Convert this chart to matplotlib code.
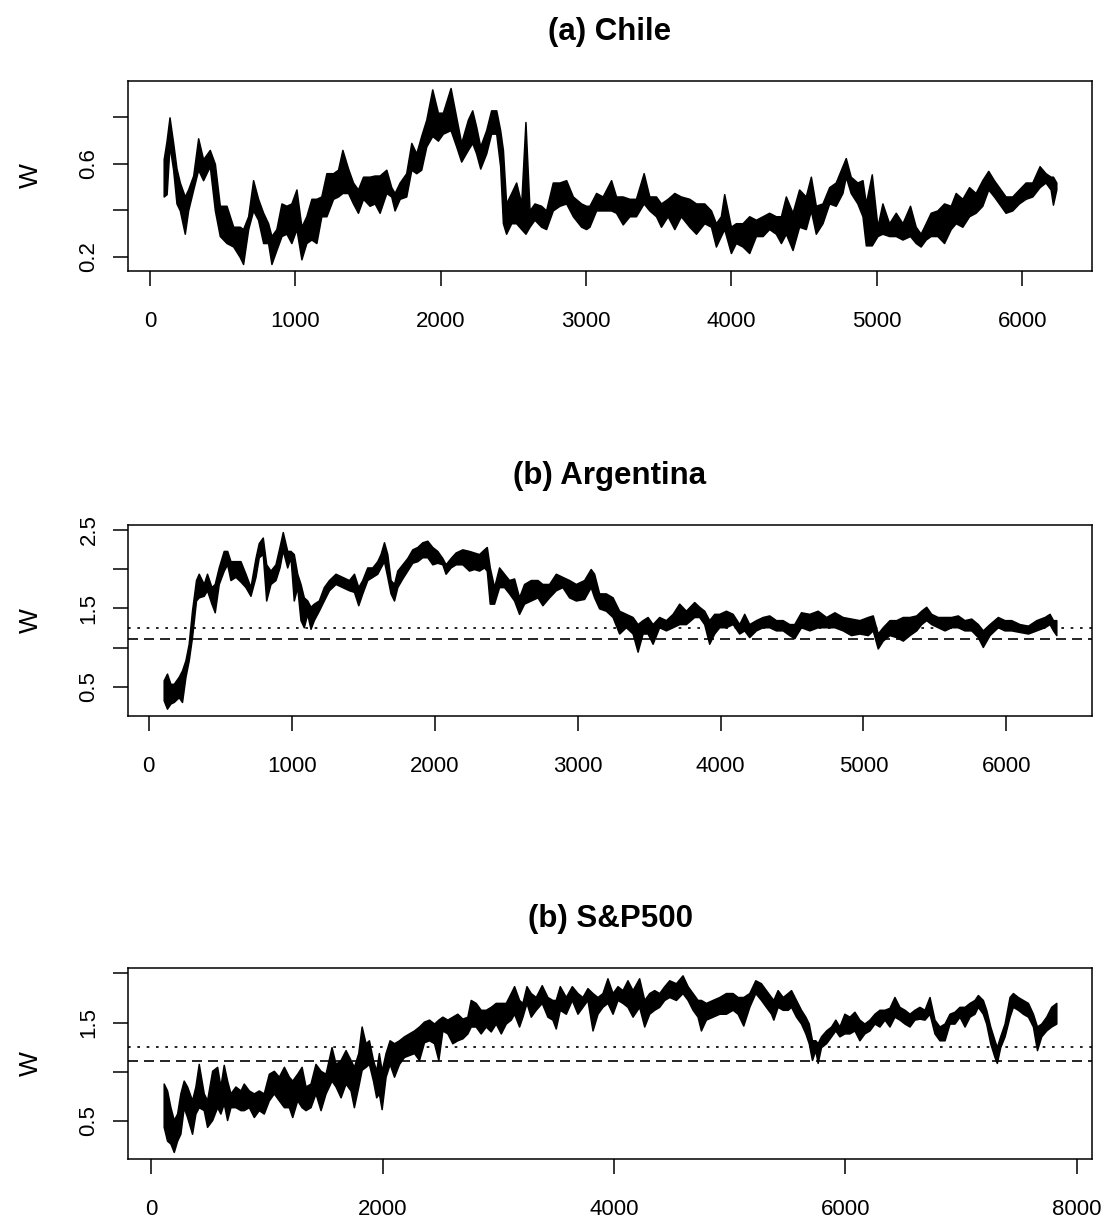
import numpy as np
import matplotlib
matplotlib.use("Agg")
import matplotlib.pyplot as plt

plt.rcParams["font.family"] = ["Liberation Sans", "DejaVu Sans"]

# W per step window: (step, lower, upper)
chile = np.array([
    (95, 0.46, 0.62), (115, 0.47, 0.70), (135, 0.68, 0.80), (160, 0.575, 0.69),
    (183, 0.43, 0.58), (206, 0.40, 0.52), (240, 0.30, 0.46), (263, 0.40, 0.49),
    (298, 0.49, 0.55), (332, 0.575, 0.71), (366, 0.53, 0.62), (412, 0.59, 0.66),
    (447, 0.40, 0.60), (481, 0.29, 0.42), (527, 0.26, 0.42), (573, 0.245, 0.33),
    (618, 0.20, 0.33), (641, 0.17, 0.32), (676, 0.32, 0.375), (710, 0.40, 0.53),
    (744, 0.36, 0.45), (779, 0.26, 0.39), (813, 0.26, 0.345), (836, 0.17, 0.29),
    (870, 0.23, 0.32), (905, 0.29, 0.43), (939, 0.30, 0.42), (973, 0.26, 0.43),
    (1008, 0.32, 0.49), (1042, 0.19, 0.33), (1076, 0.26, 0.375), (1111, 0.275, 0.45),
    (1145, 0.26, 0.45), (1179, 0.375, 0.46), (1214, 0.375, 0.56), (1260, 0.45, 0.56),
    (1294, 0.46, 0.575), (1324, 0.475, 0.66), (1363, 0.475, 0.58), (1397, 0.43, 0.52),
    (1431, 0.39, 0.49), (1466, 0.45, 0.545), (1511, 0.42, 0.545), (1546, 0.43, 0.55),
    (1580, 0.39, 0.55), (1626, 0.475, 0.575), (1660, 0.46, 0.50), (1683, 0.40, 0.475),
    (1718, 0.45, 0.52), (1763, 0.46, 0.56), (1798, 0.575, 0.69), (1832, 0.56, 0.645),
    (1866, 0.575, 0.72), (1901, 0.675, 0.79), (1942, 0.72, 0.92), (1981, 0.70, 0.82),
    (2015, 0.73, 0.82), (2068, 0.745, 0.926), (2107, 0.675, 0.80), (2141, 0.61, 0.69),
    (2187, 0.66, 0.79), (2217, 0.69, 0.83), (2244, 0.645, 0.76), (2272, 0.58, 0.675),
    (2313, 0.645, 0.745), (2347, 0.73, 0.83), (2382, 0.73, 0.83), (2409, 0.59, 0.745),
    (2428, 0.345, 0.66), (2450, 0.30, 0.43), (2485, 0.345, 0.475), (2519, 0.345, 0.52),
    (2554, 0.32, 0.43), (2583, 0.30, 0.78), (2611, 0.33, 0.40), (2645, 0.36, 0.43),
    (2691, 0.33, 0.42), (2725, 0.32, 0.40), (2771, 0.40, 0.52), (2817, 0.42, 0.52),
    (2863, 0.43, 0.53), (2909, 0.375, 0.46), (2966, 0.33, 0.43), (3000, 0.32, 0.42),
    (3023, 0.33, 0.42), (3069, 0.40, 0.475), (3114, 0.40, 0.46), (3172, 0.40, 0.53),
    (3206, 0.39, 0.46), (3252, 0.34, 0.46), (3298, 0.375, 0.45), (3343, 0.375, 0.45),
    (3396, 0.43, 0.56), (3435, 0.40, 0.46), (3481, 0.375, 0.46), (3515, 0.33, 0.43),
    (3561, 0.375, 0.45), (3607, 0.32, 0.475), (3652, 0.375, 0.46), (3710, 0.33, 0.45),
    (3756, 0.30, 0.43), (3813, 0.345, 0.43), (3859, 0.33, 0.40), (3893, 0.245, 0.345),
    (3927, 0.29, 0.375), (3950, 0.32, 0.47), (3996, 0.217, 0.33), (4030, 0.26, 0.345),
    (4076, 0.245, 0.345), (4122, 0.217, 0.375), (4168, 0.29, 0.36), (4214, 0.29, 0.375),
    (4259, 0.32, 0.39), (4305, 0.30, 0.375), (4340, 0.26, 0.375), (4374, 0.30, 0.46),
    (4420, 0.23, 0.39), (4465, 0.33, 0.49), (4511, 0.32, 0.46), (4546, 0.40, 0.545),
    (4580, 0.30, 0.42), (4626, 0.345, 0.43), (4672, 0.43, 0.50), (4717, 0.42, 0.52),
    (4763, 0.475, 0.59), (4786, 0.545, 0.625), (4820, 0.475, 0.545), (4866, 0.43, 0.52),
    (4901, 0.375, 0.53), (4924, 0.25, 0.43), (4965, 0.25, 0.555), (5004, 0.29, 0.33),
    (5038, 0.30, 0.43), (5084, 0.29, 0.345), (5130, 0.29, 0.39), (5176, 0.275, 0.345),
    (5228, 0.29, 0.42), (5267, 0.26, 0.33), (5301, 0.245, 0.30), (5336, 0.275, 0.345),
    (5370, 0.29, 0.39), (5416, 0.29, 0.40), (5462, 0.26, 0.43), (5508, 0.32, 0.42),
    (5542, 0.345, 0.475), (5588, 0.33, 0.45), (5634, 0.375, 0.50), (5679, 0.39, 0.475),
    (5725, 0.42, 0.53), (5766, 0.49, 0.57), (5805, 0.46, 0.53), (5851, 0.42, 0.49),
    (5885, 0.39, 0.46), (5931, 0.40, 0.46), (5977, 0.43, 0.49), (6023, 0.45, 0.52),
    (6069, 0.46, 0.52), (6119, 0.50, 0.59), (6160, 0.52, 0.56), (6195, 0.49, 0.545),
    (6211, 0.425, 0.545), (6234, 0.49, 0.52),
])

argentina = np.array([
    (105, 0.33, 0.585), (128, 0.225, 0.67), (152, 0.29, 0.54), (175, 0.31, 0.54),
    (210, 0.37, 0.63), (233, 0.31, 0.71), (257, 0.63, 0.84), (280, 0.84, 1.05),
    (303, 1.135, 1.47), (331, 1.60, 1.86), (350, 1.64, 1.94), (385, 1.66, 1.81),
    (408, 1.73, 1.94), (439, 1.56, 1.77), (462, 1.45, 1.81), (490, 1.81, 2.02),
    (525, 1.98, 2.23), (549, 2.06, 2.23), (572, 1.86, 2.10), (607, 1.90, 2.10),
    (642, 1.84, 2.10), (677, 1.77, 1.94), (712, 1.66, 1.77), (747, 1.90, 2.14),
    (770, 2.15, 2.33), (798, 2.19, 2.40), (822, 1.60, 2.06), (852, 1.81, 1.98),
    (887, 1.86, 2.06), (915, 2.02, 2.28), (938, 2.24, 2.47), (969, 2.02, 2.23),
    (992, 2.15, 2.23), (1015, 1.60, 2.19), (1039, 1.77, 1.94), (1062, 1.35, 1.81),
    (1085, 1.26, 1.64), (1109, 1.43, 1.60), (1132, 1.24, 1.52), (1155, 1.35, 1.56),
    (1190, 1.47, 1.60), (1225, 1.60, 1.77), (1261, 1.73, 1.86), (1307, 1.81, 1.94),
    (1354, 1.77, 1.90), (1401, 1.73, 1.86), (1436, 1.71, 1.94), (1466, 1.54, 1.77),
    (1494, 1.69, 1.86), (1529, 1.86, 2.02), (1564, 1.90, 2.02), (1599, 1.94, 2.10),
    (1622, 2.02, 2.19), (1646, 2.10, 2.34), (1669, 1.90, 2.19), (1692, 1.69, 1.86),
    (1716, 1.60, 1.81), (1739, 1.77, 1.98), (1774, 1.88, 2.06), (1809, 1.98, 2.14),
    (1844, 2.08, 2.25), (1879, 2.10, 2.28), (1914, 2.15, 2.34), (1949, 2.15, 2.36),
    (1984, 2.06, 2.28), (2019, 2.08, 2.23), (2054, 2.06, 2.14), (2077, 1.94, 2.06),
    (2112, 2.02, 2.14), (2147, 2.06, 2.21), (2194, 2.06, 2.25), (2241, 1.98, 2.23),
    (2276, 2.00, 2.21), (2311, 1.98, 2.19), (2346, 2.02, 2.25), (2365, 1.98, 2.28),
    (2386, 1.56, 2.02), (2416, 1.56, 1.77), (2451, 1.77, 2.02), (2486, 1.77, 1.94),
    (2521, 1.69, 1.86), (2556, 1.60, 1.88), (2591, 1.43, 1.64), (2626, 1.56, 1.81),
    (2673, 1.60, 1.86), (2720, 1.64, 1.86), (2754, 1.54, 1.81), (2801, 1.64, 1.81),
    (2848, 1.73, 1.94), (2894, 1.77, 1.90), (2941, 1.64, 1.86), (2988, 1.60, 1.81),
    (3046, 1.62, 1.86), (3092, 1.77, 2.00), (3116, 1.64, 1.94), (3151, 1.50, 1.69),
    (3198, 1.47, 1.69), (3245, 1.39, 1.64), (3291, 1.18, 1.47), (3338, 1.26, 1.43),
    (3385, 1.18, 1.39), (3420, 0.95, 1.30), (3455, 1.18, 1.35), (3490, 1.18, 1.39),
    (3525, 1.05, 1.30), (3571, 1.26, 1.39), (3618, 1.22, 1.35), (3665, 1.26, 1.43),
    (3711, 1.30, 1.56), (3758, 1.30, 1.47), (3816, 1.39, 1.58), (3851, 1.39, 1.52),
    (3886, 1.30, 1.47), (3921, 1.05, 1.35), (3956, 1.18, 1.43), (3991, 1.26, 1.43),
    (4038, 1.26, 1.47), (4085, 1.30, 1.43), (4131, 1.18, 1.30), (4166, 1.22, 1.43),
    (4201, 1.135, 1.30), (4248, 1.22, 1.35), (4295, 1.26, 1.39), (4341, 1.26, 1.41),
    (4388, 1.22, 1.35), (4435, 1.22, 1.35), (4481, 1.16, 1.30), (4516, 1.12, 1.30),
    (4563, 1.26, 1.45), (4622, 1.22, 1.43), (4680, 1.26, 1.47), (4739, 1.26, 1.39),
    (4797, 1.26, 1.45), (4855, 1.22, 1.39), (4913, 1.16, 1.37), (4972, 1.18, 1.35),
    (5030, 1.16, 1.39), (5065, 1.22, 1.41), (5100, 0.99, 1.18), (5135, 1.09, 1.26),
    (5182, 1.16, 1.35), (5229, 1.135, 1.35), (5275, 1.09, 1.39), (5322, 1.16, 1.39),
    (5369, 1.22, 1.41), (5404, 1.30, 1.47), (5439, 1.35, 1.52), (5474, 1.30, 1.43),
    (5520, 1.26, 1.39), (5567, 1.22, 1.39), (5614, 1.26, 1.39), (5660, 1.26, 1.41),
    (5707, 1.22, 1.35), (5754, 1.22, 1.37), (5800, 1.135, 1.30), (5835, 1.01, 1.22),
    (5882, 1.16, 1.30), (5940, 1.26, 1.39), (5987, 1.22, 1.35), (6034, 1.22, 1.35),
    (6092, 1.20, 1.30), (6151, 1.18, 1.28), (6209, 1.22, 1.35), (6267, 1.26, 1.39),
    (6302, 1.30, 1.43), (6326, 1.22, 1.35), (6349, 1.16, 1.35),
])

sp500 = np.array([
    (108, 0.44, 0.88), (137, 0.30, 0.81), (166, 0.27, 0.64), (195, 0.185, 0.51),
    (224, 0.30, 0.575), (252, 0.37, 0.78), (281, 0.64, 0.91), (310, 0.54, 0.85),
    (353, 0.37, 0.71), (382, 0.575, 0.85), (411, 0.64, 1.08), (454, 0.61, 0.78),
    (483, 0.44, 0.71), (527, 0.51, 1.01), (570, 0.64, 1.05), (598, 0.575, 0.85),
    (627, 0.68, 1.07), (656, 0.51, 0.91), (685, 0.64, 0.78), (728, 0.64, 0.85),
    (772, 0.61, 0.81), (800, 0.61, 0.88), (844, 0.64, 0.81), (887, 0.54, 0.78),
    (930, 0.61, 0.81), (973, 0.575, 0.78), (1017, 0.71, 0.98), (1060, 0.78, 1.01),
    (1103, 0.71, 0.95), (1147, 0.64, 1.05), (1190, 0.64, 0.95), (1219, 0.54, 0.91),
    (1262, 0.71, 0.98), (1300, 0.64, 1.05), (1334, 0.61, 0.85), (1377, 0.64, 0.88),
    (1420, 0.78, 1.08), (1464, 0.61, 1.01), (1507, 0.78, 0.98), (1559, 0.91, 1.25),
    (1594, 0.85, 1.08), (1637, 0.74, 1.12), (1680, 0.88, 1.22), (1723, 0.81, 1.12),
    (1752, 0.64, 1.05), (1790, 0.85, 1.19), (1819, 1.02, 1.46), (1853, 1.05, 1.29),
    (1882, 1.08, 1.32), (1917, 0.91, 1.12), (1945, 0.74, 1.01), (1968, 0.78, 1.19),
    (1992, 0.62, 1.01), (2026, 0.95, 1.19), (2061, 1.08, 1.32), (2099, 0.95, 1.29),
    (2142, 1.08, 1.32), (2185, 1.15, 1.36), (2228, 1.17, 1.39), (2272, 1.19, 1.42),
    (2315, 1.12, 1.46), (2358, 1.30, 1.51), (2402, 1.32, 1.53), (2445, 1.29, 1.49),
    (2482, 1.12, 1.53), (2517, 1.42, 1.56), (2560, 1.39, 1.53), (2603, 1.29, 1.56),
    (2646, 1.32, 1.59), (2690, 1.34, 1.54), (2733, 1.39, 1.56), (2762, 1.46, 1.73),
    (2805, 1.46, 1.70), (2848, 1.39, 1.63), (2892, 1.46, 1.63), (2935, 1.41, 1.66),
    (2978, 1.49, 1.70), (3022, 1.39, 1.70), (3065, 1.49, 1.70), (3108, 1.53, 1.80),
    (3137, 1.59, 1.87), (3180, 1.46, 1.73), (3209, 1.56, 1.70), (3244, 1.70, 1.87),
    (3281, 1.56, 1.80), (3324, 1.63, 1.76), (3376, 1.70, 1.88), (3425, 1.56, 1.76),
    (3468, 1.53, 1.73), (3497, 1.44, 1.73), (3532, 1.63, 1.87), (3584, 1.59, 1.76),
    (3636, 1.73, 1.87), (3685, 1.59, 1.80), (3728, 1.66, 1.76), (3771, 1.73, 1.85),
    (3815, 1.42, 1.80), (3858, 1.59, 1.76), (3901, 1.66, 1.80), (3944, 1.70, 1.95),
    (3988, 1.59, 1.80), (4031, 1.73, 1.87), (4074, 1.70, 1.83), (4117, 1.66, 1.93),
    (4161, 1.56, 1.83), (4218, 1.66, 1.95), (4262, 1.46, 1.73), (4305, 1.59, 1.80),
    (4348, 1.63, 1.83), (4391, 1.66, 1.80), (4435, 1.73, 1.87), (4478, 1.76, 1.93),
    (4536, 1.73, 1.90), (4593, 1.80, 1.98), (4637, 1.73, 1.87), (4680, 1.63, 1.80),
    (4723, 1.56, 1.73), (4752, 1.42, 1.73), (4795, 1.53, 1.70), (4853, 1.56, 1.73),
    (4911, 1.59, 1.76), (4968, 1.59, 1.80), (5026, 1.63, 1.80), (5069, 1.59, 1.76),
    (5118, 1.47, 1.76), (5170, 1.66, 1.80), (5222, 1.80, 1.93), (5271, 1.73, 1.90),
    (5314, 1.66, 1.83), (5358, 1.59, 1.76), (5378, 1.53, 1.73), (5415, 1.66, 1.83),
    (5459, 1.63, 1.76), (5502, 1.63, 1.80), (5531, 1.66, 1.83), (5574, 1.56, 1.73),
    (5617, 1.49, 1.63), (5655, 1.39, 1.56), (5684, 1.29, 1.49), (5712, 1.12, 1.32),
    (5741, 1.22, 1.32), (5761, 1.09, 1.29), (5790, 1.25, 1.36), (5834, 1.29, 1.42),
    (5877, 1.36, 1.46), (5914, 1.42, 1.53), (5949, 1.36, 1.46), (5992, 1.39, 1.59),
    (6036, 1.39, 1.56), (6079, 1.42, 1.61), (6122, 1.32, 1.53), (6165, 1.39, 1.49),
    (6209, 1.42, 1.53), (6252, 1.49, 1.59), (6295, 1.46, 1.63), (6339, 1.53, 1.63),
    (6382, 1.46, 1.65), (6425, 1.56, 1.76), (6468, 1.53, 1.66), (6512, 1.49, 1.63),
    (6555, 1.46, 1.59), (6598, 1.53, 1.63), (6641, 1.54, 1.66), (6685, 1.53, 1.63),
    (6728, 1.59, 1.76), (6771, 1.39, 1.53), (6814, 1.32, 1.46), (6858, 1.32, 1.49),
    (6901, 1.49, 1.59), (6944, 1.49, 1.61), (6987, 1.56, 1.66), (7031, 1.46, 1.66),
    (7074, 1.56, 1.70), (7117, 1.59, 1.73), (7146, 1.66, 1.78), (7189, 1.59, 1.73),
    (7218, 1.49, 1.63), (7253, 1.29, 1.46), (7290, 1.15, 1.32), (7310, 1.09, 1.25),
    (7339, 1.25, 1.36), (7377, 1.36, 1.49), (7420, 1.56, 1.76), (7449, 1.66, 1.80),
    (7492, 1.63, 1.76), (7535, 1.59, 1.73), (7579, 1.56, 1.70), (7622, 1.46, 1.59),
    (7657, 1.22, 1.46), (7694, 1.36, 1.49), (7737, 1.42, 1.56), (7780, 1.46, 1.66),
    (7824, 1.49, 1.70),
])

titles = ["(a) Chile", "(b) Argentina", "(b) S&P500"]

# reference levels drawn in the lower two panels
dotted_level = 1.25
dashed_level = 1.11

chile_xticks = [0, 1000, 2000, 3000, 4000, 5000, 6000]
sp500_xticks = [0, 2000, 4000, 6000, 8000]
chile_yticks = [0.2, 0.4, 0.6, 0.8]
chile_ylabels = ["0.2", "", "0.6", ""]
argentina_yticks = [0.5, 1.0, 1.5, 2.0, 2.5]
argentina_ylabels = ["0.5", "", "1.5", "", "2.5"]
sp500_yticks = [0.5, 1.0, 1.5, 2.0]
sp500_ylabels = ["0.5", "", "1.5", ""]

W, H = 1108, 1220
fig = plt.figure(figsize=(W / 100, H / 100), dpi=100)

# axes boxes in pixels: left, right, top, bottom
boxes = [(128, 1092, 81, 271), (128, 1092, 525, 715.7), (128, 1092, 968.3, 1159)]

panels = [
    (chile, chile_xticks, chile_yticks, chile_ylabels, False),
    (argentina, chile_xticks, argentina_yticks, argentina_ylabels, True),
    (sp500, sp500_xticks, sp500_yticks, sp500_ylabels, True),
]

for (l, r, t, b), title, (data, xt, yt, yl, levels) in zip(boxes, titles, panels):
    ax = fig.add_axes([l / W, 1 - b / H, (r - l) / W, (b - t) / H])
    step, low, high = data[:, 0], data[:, 1], data[:, 2]
    ax.fill_between(step, low, high, facecolor="black", edgecolor="black",
                    lw=1.1)
    ax.margins(x=0.04, y=0.04)

    if levels:
        ax.axhline(dotted_level, color="black", lw=1.2, ls=(0, (1.6, 4.0)))
        ax.axhline(dashed_level, color="black", lw=1.2, ls=(0, (6.0, 3.6)))

    ax.set_xticks(xt)
    ax.set_xticklabels([str(v) for v in xt])
    ax.set_yticks(yt)
    ax.set_yticklabels(yl)
    ax.tick_params(axis="both", direction="out", length=10.5, width=1.1,
                   labelsize=16)
    ax.tick_params(axis="x", pad=18.5)
    ax.tick_params(axis="y", pad=10, labelrotation=90)
    for lab in ax.get_yticklabels():
        lab.set_va("center")
    for s in ax.spines.values():
        s.set_linewidth(1.1)

    ax.set_ylabel("W", fontsize=19)
    ax.yaxis.set_label_coords(-0.088, 0.5)
    ax.text(0.5, 1 + 49 / (b - t), title, transform=ax.transAxes,
            ha="center", va="center", fontsize=22.5, fontweight="bold")

fig.savefig("out.png", dpi=100, facecolor="white")
